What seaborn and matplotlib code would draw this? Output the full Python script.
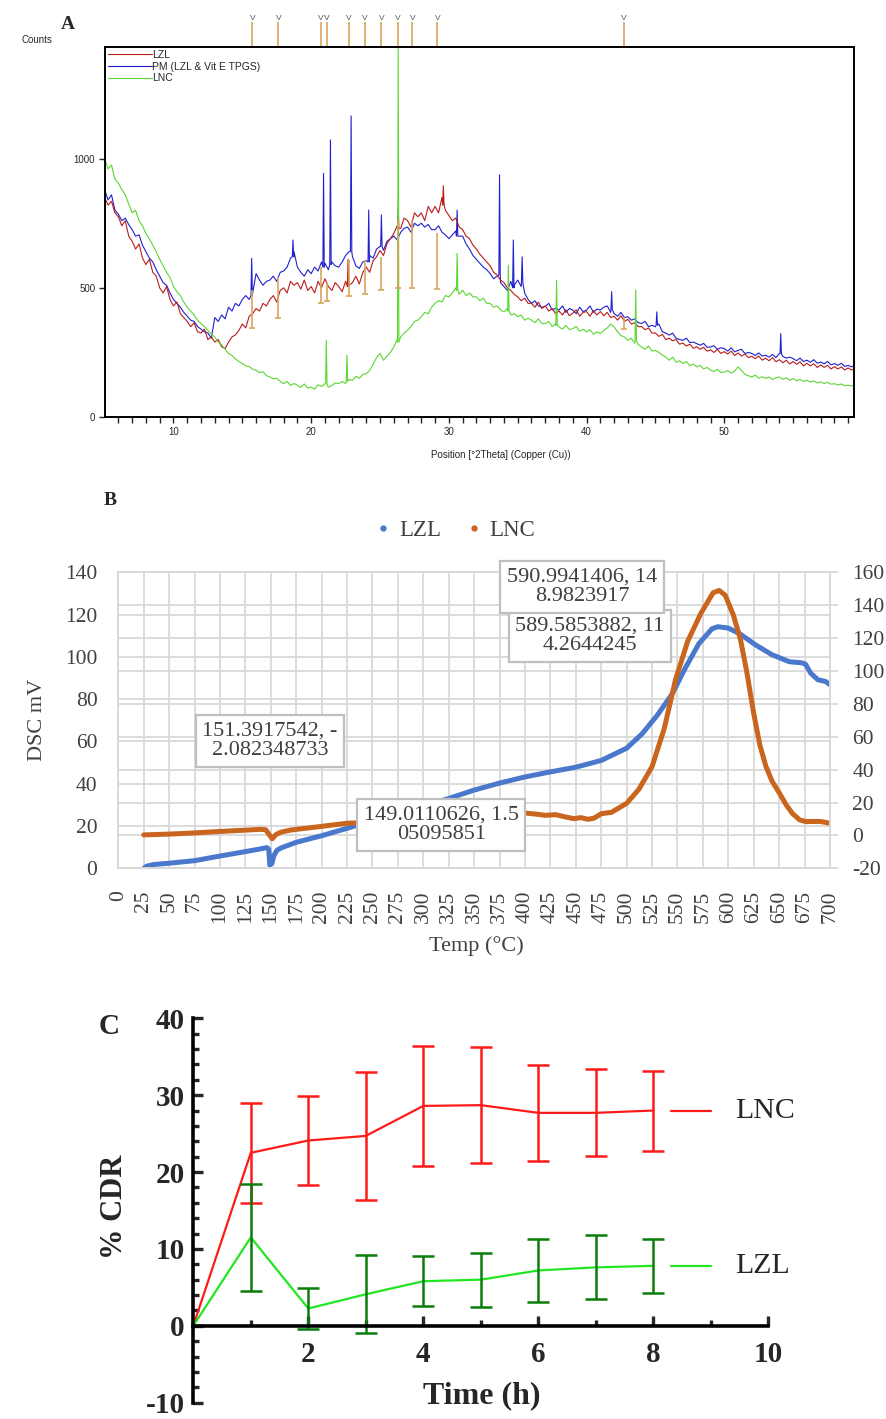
import numpy as np
import matplotlib
matplotlib.use("Agg")
import matplotlib.pyplot as plt
import matplotlib.transforms as mtrans
from matplotlib.lines import Line2D
from matplotlib.ticker import MultipleLocator
import seaborn as sns

sns.set_style("ticks")
plt.rcParams["font.family"] = ["Liberation Serif", "DejaVu Serif"]
plt.rcParams["axes.unicode_minus"] = False
NARROW = ["Liberation Sans Narrow", "Liberation Sans", "DejaVu Sans"]

# ---------------- A: XRD data ----------------
two_theta = np.arange(5.0, 60.0, 0.25)  # 5.00 ... 59.75, one row per degree below

lzl_xrd = [850, 820, 835, 790, 775, 740, 760, 700, 680, 650, 670, 615, 590, 610, 560, 545,
           500, 480, 505, 455, 430, 445, 400, 385, 370, 350, 365, 330, 325, 340, 300, 310,
           290, 300, 272, 265, 290, 310, 318, 335, 360, 345, 390, 400, 420, 410, 440, 430,
           455, 470, 445, 490, 500, 480, 525, 510, 520, 495, 530, 490, 505, 480, 525, 500,
           535, 505, 490, 520, 505, 485, 525, 510, 520, 545, 515, 560, 580, 560, 605, 620,
           645, 625, 670, 690, 710, 740, 730, 770, 760, 735, 790, 775, 790, 760, 815, 790,
           815, 790, 850, 800, 780, 760, 770, 735, 725, 700, 690, 665, 650, 630, 615, 600,
           585, 560, 550, 530, 520, 500, 490, 475, 465, 450, 460, 440, 440, 425, 445, 420,
           430, 410, 420, 400, 410, 395, 415, 392, 402, 415, 390, 405, 408, 390, 412, 395,
           408, 392, 405, 385, 390, 375, 392, 370, 378, 360, 365, 350, 350, 338, 345, 325,
           325, 312, 320, 300, 305, 295, 300, 282, 286, 275, 282, 266, 272, 262, 270, 255,
           260, 250, 262, 246, 253, 244, 255, 238, 248, 236, 244, 230, 235, 226, 236, 220,
           228, 218, 230, 214, 222, 210, 220, 205, 215, 204, 214, 198, 208, 198, 206, 192,
           202, 192, 200, 186, 195, 186, 194, 182, 190, 182, 188, 180]

pm_xrd = [880, 840, 860, 800, 785, 760, 770, 745, 725, 700, 705, 665, 640, 615, 600, 570,
          545, 520, 510, 480, 455, 440, 425, 405, 390, 375, 370, 350, 340, 330, 325, 305,
          385, 370, 395, 380, 425, 410, 440, 430, 455, 470, 455, 480, 555, 530, 510, 525,
          530, 545, 525, 560, 565, 580, 615, 640, 580, 560, 545, 570, 555, 580, 565, 600,
          595, 570, 600, 585, 580, 600, 625, 640, 620, 585, 575, 600, 605, 625, 615, 650,
          660, 645, 680, 690, 700, 685, 715, 730, 735, 715, 750, 740, 750, 735, 745, 725,
          725, 740, 715, 705, 690, 705, 720, 700, 700, 670, 650, 625, 610, 595, 580, 570,
          555, 535, 545, 520, 505, 490, 525, 510, 530, 505, 480, 455, 440, 450, 430, 425,
          428, 440, 415, 420, 414, 430, 405, 420, 414, 400, 425, 408, 414, 430, 405, 418,
          414, 425, 430, 405, 401, 390, 405, 385, 388, 375, 380, 365, 362, 370, 350, 355,
          349, 360, 330, 325, 317, 325, 305, 300, 297, 305, 288, 290, 284, 278, 285, 270,
          271, 276, 262, 268, 265, 255, 268, 252, 258, 262, 246, 250, 246, 238, 248, 236,
          239, 232, 242, 230, 246, 235, 228, 232, 226, 218, 228, 215, 220, 212, 222, 208,
          213, 206, 215, 202, 207, 200, 208, 196, 200, 194, 202, 192]

lnc_xrd = [1000, 960, 975, 920, 905, 880, 860, 825, 790, 800, 760, 740, 710, 690, 665, 640,
           610, 585, 560, 540, 505, 485, 470, 445, 425, 410, 395, 375, 362, 350, 335, 320,
           310, 290, 280, 262, 246, 238, 225, 215, 207, 198, 195, 185, 181, 172, 175, 160,
           155, 148, 150, 138, 129, 138, 122, 130, 123, 115, 128, 112, 116, 108, 125, 118,
           129, 115, 122, 132, 129, 138, 130, 145, 142, 158, 150, 165, 168, 180, 205, 230,
           246, 220, 235, 250, 271, 300, 310, 325, 336, 350, 370, 375, 388, 405, 400, 425,
           440, 450, 445, 470, 465, 480, 500, 475, 491, 470, 480, 465, 465, 450, 460, 440,
           440, 425, 430, 415, 407, 420, 395, 400, 388, 395, 375, 382, 375, 365, 380, 362,
           362, 370, 350, 360, 349, 340, 355, 338, 343, 350, 332, 340, 330, 338, 320, 330,
           323, 335, 345, 360, 349, 330, 315, 310, 297, 305, 285, 280, 271, 262, 275, 255,
           258, 250, 240, 232, 220, 232, 212, 218, 207, 215, 198, 205, 194, 200, 186, 192,
           181, 176, 185, 172, 174, 180, 170, 178, 194, 180, 165, 160, 155, 162, 150, 156,
           149, 155, 145, 152, 155, 146, 152, 142, 149, 140, 146, 138, 142, 136, 140, 132,
           136, 130, 134, 127, 129, 124, 128, 121, 123, 120, 125, 118]

# sharp reflections: position, top, foot
lzl_peak_pos = [22.68, 26.32, 29.6]
lzl_peak_top = [610, 810, 895]
lzl_peak_foot = [505, 730, 820]

pm_peak_pos = [15.68, 18.68, 20.9, 21.4, 22.9, 24.18, 25.1, 30.6, 33.68, 34.68, 35.32, 41.82, 45.1, 54.1]
pm_peak_top = [614, 685, 943, 1072, 1165, 801, 782, 801, 937, 685, 620, 485, 407, 323]
pm_peak_foot = [470, 620, 580, 590, 640, 600, 660, 700, 550, 500, 520, 415, 355, 245]

lnc_peak_pos = [21.1, 22.6, 26.32, 30.6, 34.32, 37.82, 43.57]
lnc_peak_top = [297, 239, 1440, 633, 588, 530, 491]
lnc_peak_foot = [128, 138, 290, 490, 410, 355, 295]

# reference pattern sticks
ref_pos = [15.73, 17.62, 20.72, 21.15, 22.73, 23.91, 25.10, 26.31, 27.35, 29.17, 42.72]
ref_top = [491, 543, 581, 517, 607, 607, 620, 762, 762, 711, 388]
ref_bottom = [343, 385, 442, 450, 469, 478, 491, 498, 498, 494, 339]

# ---------------- B: DSC data ----------------
lzl_dsc_temp = [25, 28, 35, 50, 75, 100, 125, 140, 146, 148, 149.01, 151, 153, 156, 160, 175,
                200, 225, 250, 275, 300, 325, 350, 375, 400, 425, 450, 475, 500, 515,
                530, 545, 558, 571, 584, 589.59, 600, 611, 627, 643, 660, 672, 676, 681,
                688, 696, 700]
lzl_dsc = [0.0, 1.0, 1.8, 2.4, 3.6, 5.8, 7.9, 9.2, 9.8, 9.0, 1.5, 2.2, 6.0, 8.5, 9.6, 12.3,
           15.4, 18.9, 22.5, 26.0, 29.5, 33.0, 37.0, 40.3, 43.2, 45.6, 47.8, 51.0, 56.8, 63.5,
           72.3, 82.6, 95.0, 106.2, 113.3, 114.26, 113.6, 111.0, 105.6, 101.0, 97.7, 97.2, 96.5, 92.3,
           89.2, 88.3, 86.8]

lnc_dsc_temp = [25, 50, 75, 100, 125, 140, 145, 148, 151.39, 155, 160, 170, 200, 225,
                250, 275, 300, 325, 350, 375, 400, 410, 420, 430, 440, 448, 455, 462,
                468, 475, 485, 500, 512, 525, 537, 548, 560, 573, 585, 590.99, 597, 605,
                612, 618, 625, 631, 637, 643, 650, 657, 663, 670, 676, 690, 695, 700]
lnc_dsc = [0.3, 0.8, 1.5, 2.4, 3.2, 3.7, 3.4, 0.8, -2.08, 0.5, 2.0, 3.3, 5.5, 7.4,
           8.0, 8.5, 9.2, 10.0, 11.0, 12.0, 13.6, 13.0, 12.2, 12.6, 11.2, 10.2, 10.8, 9.8,
           10.5, 13.2, 14.0, 19.5, 28.0, 41.8, 65.0, 94.5, 118.0, 135.0, 147.5, 148.98, 146.0, 134.0,
           119.0, 100.0, 74.2, 55.0, 42.0, 33.0, 26.0, 18.5, 13.4, 9.5, 8.4, 8.5, 8.0, 7.4]

dsc_labels = ["151.3917542, -\n2.082348733", "149.0110626, 1.5\n05095851",
              "589.5853882, 11\n4.2644245", "590.9941406, 14\n8.9823917"]

# ---------------- C: release data ----------------
time_h = [0, 1, 2, 3, 4, 5, 6, 7, 8]
lnc_cdr = [0, 22.5, 24.1, 24.7, 28.6, 28.7, 27.7, 27.7, 28.0]
lnc_sd = [0, 6.5, 5.75, 8.35, 7.8, 7.5, 6.2, 5.65, 5.2]
lzl_cdr = [0, 11.5, 2.25, 4.1, 5.8, 6.0, 7.2, 7.6, 7.8]
lzl_sd = [0, 7.0, 2.7, 5.05, 3.25, 3.5, 4.05, 4.15, 3.5]


def with_peaks(base, pos, top, foot, w=0.05):
    x = list(two_theta)
    y = list(base)
    for p, t, f in zip(pos, top, foot):
        x += [p - w, p, p + w]
        y += [f, t, f]
    order = np.argsort(x)
    return np.array(x)[order], np.array(y)[order]


fig = plt.figure(figsize=(8.87, 14.19), dpi=100)

# ================= Panel A =================
ax_a = fig.add_axes([0.1184, 0.7061, 0.8444, 0.2608])
x_pm, y_pm = with_peaks(pm_xrd, pm_peak_pos, pm_peak_top, pm_peak_foot)
x_lzl, y_lzl = with_peaks(lzl_xrd, lzl_peak_pos, lzl_peak_top, lzl_peak_foot)
x_lnc, y_lnc = with_peaks(lnc_xrd, lnc_peak_pos, lnc_peak_top, lnc_peak_foot)

sns.lineplot(x=x_pm, y=y_pm, ax=ax_a, color="#2020D0", lw=0.8, estimator=None, sort=False,
             label="PM (LZL & Vit E TPGS)")
sns.lineplot(x=x_lzl, y=y_lzl, ax=ax_a, color="#B81C1C", lw=0.8, estimator=None, sort=False,
             label="LZL")
sns.lineplot(x=x_lnc, y=y_lnc, ax=ax_a, color="#5CD632", lw=0.8, estimator=None, sort=False,
             label="LNC")

stick = "#D9A55B"
ax_a.vlines(ref_pos, ref_bottom, ref_top, color=stick, lw=1.2, zorder=3)
ax_a.plot(ref_pos, ref_bottom, ls="none", marker="_", ms=5, mew=1.2, color=stick, zorder=3)
ax_a.set_xlim(5.03, 59.42)
ax_a.set_ylim(0, 1432)
ax_a.vlines(ref_pos, 1432, 1528, color=stick, lw=1.2, clip_on=False)
for p in ref_pos:
    ax_a.text(p, 1530, "V", ha="center", va="bottom", fontsize=6, color="#555555",
              family=NARROW, clip_on=False)

h, l = ax_a.get_legend_handles_labels()
order = [1, 0, 2]
ax_a.legend([h[i] for i in order], [l[i] for i in order], loc="upper left",
            bbox_to_anchor=(0, 1), borderaxespad=0.1, borderpad=0.2, frameon=False,
            handlelength=4.2, handletextpad=0.0, labelspacing=0.15,
            prop={"family": NARROW, "size": 7.5})

ax_a.set_xticks([10, 20, 30, 40, 50])
ax_a.xaxis.set_minor_locator(MultipleLocator(1))
ax_a.set_yticks([0, 500, 1000])
ax_a.tick_params(which="both", direction="out", length=4, width=1, labelsize=7, pad=3)
for lab in ax_a.get_xticklabels() + ax_a.get_yticklabels():
    lab.set_family(NARROW)
for sp in ax_a.spines.values():
    sp.set_visible(True)
    sp.set_linewidth(1.4)
    sp.set_color("black")
ax_a.set_xlabel("Position [°2Theta] (Copper (Cu))", family=NARROW, fontsize=7)
ax_a.xaxis.set_label_coords(0.528, -0.088)
ax_a.set_ylabel("")
fig.text(0.0248, 0.9718, "Counts", family=NARROW, fontsize=7, va="center")
fig.text(0.0767, 0.9824, "A", fontsize=14, fontweight="bold", ha="center", va="center")

# ================= Panel B =================
grid_c = "#D9D9D9"
txt_c = "#404040"
ax_b = fig.add_axes([0.1334, 0.3881, 0.8023, 0.2086])
ax_b2 = ax_b.twinx()

ax_b.set_xlim(0, 700)
ax_b.set_ylim(0, 140)
ax_b2.set_ylim(-20, 160)
ax_b.set_xticks(np.arange(0, 701, 25))
ax_b.set_yticks(np.arange(0, 141, 20))
ax_b2.set_yticks(np.arange(-20, 161, 20))
ax_b.set_axisbelow(True)
ax_b.grid(True, color=grid_c, lw=1.3)
tr = mtrans.blended_transform_factory(ax_b.transAxes, ax_b2.transData)
for v in np.arange(-20, 161, 20):
    ax_b.plot([0, 1], [v, v], transform=tr, color=grid_c, lw=1.3, zorder=0.5)

sns.lineplot(x=lzl_dsc_temp, y=lzl_dsc, ax=ax_b, color="#4A78CC", lw=3.6, estimator=None, sort=False)
sns.lineplot(x=lnc_dsc_temp, y=lnc_dsc, ax=ax_b2, color="#C9651E", lw=3.6, estimator=None, sort=False)

ax_b.set_xticklabels([str(t) for t in range(0, 701, 25)], rotation=90)
ax_b.tick_params(axis="x", length=0, pad=16, labelsize=15.5, labelcolor=txt_c)
ax_b.tick_params(axis="y", length=0, pad=15, labelsize=15.5, labelcolor=txt_c)
ax_b2.tick_params(axis="y", length=6, width=1.3, color=grid_c, pad=10, labelsize=15.5,
                  labelcolor=txt_c)
for a in (ax_b, ax_b2):
    for sp in a.spines.values():
        sp.set_visible(True)
        sp.set_color(grid_c)
        sp.set_linewidth(1.3)
ax_b.set_ylabel("DSC mV", fontsize=16, color=txt_c)
ax_b.yaxis.set_label_coords(-0.1, 0.501)
ax_b.set_xlabel("Temp (°C)", fontsize=16, color=txt_c)
ax_b.xaxis.set_label_coords(0.503, -0.228)
ax_b2.set_ylabel("")

# data label boxes (left-scale data coordinates)
box_x = [149, 317.6, 464, 456]
box_y = [60.2, 20.5, 109.9, 133.0]
for bx, by, s in zip(box_x, box_y, dsc_labels):
    ax_b2.text(bx, by, s, transform=ax_b.transData, ha="center", va="center",
               multialignment="center", fontsize=16, color=txt_c, linespacing=1.05,
               bbox=dict(boxstyle="square,pad=0.3", fc="white", ec="#BFBFBF", lw=1.6),
               zorder=5)

leg_h = [Line2D([], [], ls="none", marker="o", ms=3.5, color="#4A78CC"),
         Line2D([], [], ls="none", marker="o", ms=3.5, color="#C9651E")]
ax_b2.legend(leg_h, ["LZL", "LNC"], loc="center", bbox_to_anchor=(0.4745, 1.142), ncol=2,
             frameon=False, handlelength=0.6, handletextpad=0.4, columnspacing=1.1,
             fontsize=16.5, labelcolor=txt_c)
fig.text(0.124, 0.6476, "B", fontsize=14, fontweight="bold", ha="center", va="center")

# ================= Panel C =================
ax_c = fig.add_axes([0.2179, 0.0115, 0.6483, 0.2709])
red = "#FF1A1A"
green = "#22E622"
dark_green = "#0A7D0A"
sns.lineplot(x=time_h, y=lnc_cdr, ax=ax_c, color=red, lw=1.6, estimator=None, sort=False)
sns.lineplot(x=time_h, y=lzl_cdr, ax=ax_c, color=green, lw=1.6, estimator=None, sort=False)
ax_c.errorbar(time_h[1:], lnc_cdr[1:], yerr=lnc_sd[1:], fmt="none", ecolor=red,
              elinewidth=1.8, capsize=8, capthick=1.8)
ax_c.errorbar(time_h[1:], lzl_cdr[1:], yerr=lzl_sd[1:], fmt="none", ecolor=dark_green,
              elinewidth=1.8, capsize=8, capthick=1.8)

ax_c.set_xlim(0, 10)
ax_c.set_ylim(-10, 40)
ax_c.spines["top"].set_visible(False)
ax_c.spines["right"].set_visible(False)
ax_c.spines["bottom"].set_position(("data", 0))
for sp in ("left", "bottom"):
    ax_c.spines[sp].set_linewidth(2.6)
    ax_c.spines[sp].set_color("black")
ax_c.set_xticks([2, 4, 6, 8, 10])
ax_c.xaxis.set_minor_locator(MultipleLocator(1))
ax_c.set_yticks([-10, 0, 10, 20, 30, 40])
ax_c.yaxis.set_minor_locator(MultipleLocator(2))
ax_c.tick_params(which="major", direction="in", length=7.5, width=2.4, labelsize=21, pad=6)
ax_c.tick_params(axis="x", which="major", pad=11)
ax_c.tick_params(which="minor", direction="in", length=4.2, width=2.4)
for lab in ax_c.get_xticklabels() + ax_c.get_yticklabels():
    lab.set_fontweight("bold")
ax_c.set_xlabel("Time (h)", fontsize=23, fontweight="bold")
ax_c.xaxis.set_label_coords(0.502, 0.055)
ax_c.set_ylabel("% CDR", fontsize=22, fontweight="bold")
ax_c.yaxis.set_label_coords(-0.112, 0.51)

# end-of-line series labels
for yv, col, name in ((lnc_cdr[-1], red, "LNC"), (lzl_cdr[-1], green, "LZL")):
    ax_c.plot([8.3, 9.0], [yv, yv], color=col, lw=1.6, clip_on=False)
    ax_c.text(9.42, yv, name, fontsize=21.5, va="center", ha="left")
fig.text(0.1229, 0.2763, "C", fontsize=21, fontweight="bold", ha="center", va="center")

fig.savefig("out.png", dpi=100)
